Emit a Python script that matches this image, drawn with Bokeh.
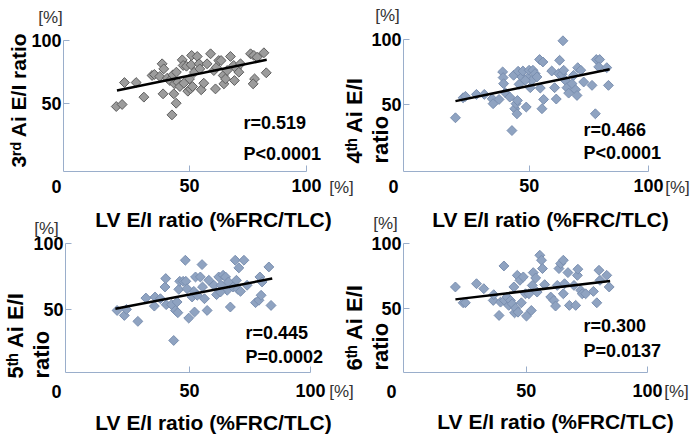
import numpy as np
from bokeh.plotting import figure
from bokeh.models import Range1d, FixedTicker, Label, LinearAxis
from bokeh.embed import file_html
from bokeh.resources import INLINE

# ---------------- data ----------------
lv_x1 = [18.7, 21.2, 22.2, 27.2, 30.5, 34.0, 35.0, 37.3, 38.3, 39.0, 38.7, 40.5, 41.6, 42.9, 42.5,
         43.3, 43.6, 44.3, 44.4, 45.0, 45.9, 46.9, 47.3, 48.7, 49.3, 50.0, 50.4, 50.7, 50.9, 51.3,
         52.1, 53.3, 54.1, 54.4, 55.0, 56.1, 57.5, 59.0, 60.4, 61.1, 61.5, 62.5, 63.5, 64.4, 64.7,
         65.4, 66.1, 67.5, 68.9, 69.2, 70.1, 71.1, 71.8, 76.1, 77.5, 77.8, 77.2, 78.9, 81.8, 82.8, 47.6]
ai3_y = [47.9, 49.5, 66.8, 66.8, 55.3, 72.4, 73.2, 71.6, 81.6, 77.6, 57.9, 70.3, 68.4, 72.9, 41.3,
         57.9, 65.8, 50.5, 75.0, 67.1, 63.7, 84.7, 80.3, 79.7, 60.0, 69.7, 61.8, 80.8, 88.2, 63.7,
         75.0, 87.4, 81.6, 77.6, 61.1, 66.3, 81.6, 89.5, 76.3, 61.8, 78.9, 84.2, 84.2, 72.4, 65.8,
         69.7, 76.3, 87.4, 80.3, 68.4, 77.6, 75.0, 81.6, 89.5, 88.2, 69.7, 65.8, 86.8, 90.3, 74.5, 66.3]

lv_x2 = [19.0, 22.2, 23.2, 27.8, 31.1, 34.4, 34.8, 37.3, 38.8, 39.0, 39.2, 39.9, 41.8, 42.7, 43.4,
         43.9, 44.4, 44.8, 45.0, 45.3, 45.7, 46.9, 47.3, 48.7, 49.4, 49.9, 50.4, 51.1, 51.5, 52.4,
         54.3, 54.6, 55.3, 55.7, 56.0, 59.4, 60.6, 61.3, 62.3, 62.7, 64.1, 63.7, 64.4, 65.1, 65.8,
         66.5, 67.9, 68.6, 69.4, 70.0, 70.3, 71.6, 72.8, 76.3, 77.7, 78.1, 79.5, 79.1, 82.5, 83.2,
         48.3, 53.2]
ai4_y = [39.4, 54.9, 56.0, 57.5, 57.5, 54.1, 50.3, 53.6, 74.9, 70.5, 65.8, 58.8, 55.4, 29.5, 72.3,
         46.4, 50.3, 42.5, 52.8, 75.4, 65.3, 71.0, 75.6, 47.7, 70.5, 76.2, 62.7, 68.4, 76.2, 73.6,
         84.5, 62.4, 46.4, 82.6, 53.6, 75.6, 62.7, 53.9, 73.6, 83.9, 99.0, 73.1, 76.2, 68.4, 62.7,
         58.5, 65.8, 72.3, 61.1, 56.7, 78.2, 76.2, 67.1, 64.5, 42.5, 84.5, 84.5, 78.8, 78.2, 64.5,
         68.4, 71.0]

lv_x3 = [20.1, 23.1, 24.0, 28.7, 32.0, 35.5, 35.8, 38.0, 39.9, 40.2, 40.4, 42.6, 43.5, 44.2, 44.9,
         45.2, 45.6, 46.0, 47.4, 48.3, 48.5, 49.7, 51.1, 51.8, 52.1, 52.5, 53.2, 54.5, 55.2, 55.4,
         56.2, 57.3, 60.1, 61.2, 62.1, 63.1, 63.9, 64.9, 65.6, 66.1, 66.9, 68.0, 68.9, 69.4, 70.0,
         70.4, 71.1, 72.5, 73.8, 77.3, 78.7, 79.6, 79.1, 80.0, 82.8, 83.7, 49.0, 58.0, 62.8]
ai5_y = [49.2, 45.4, 50.0, 40.9, 58.6, 52.5, 59.4, 58.1, 67.0, 73.4, 53.6, 53.6, 26.4, 49.2, 55.6,
         47.5, 65.2, 71.3, 71.3, 87.3, 71.3, 43.4, 59.4, 63.7, 48.0, 74.6, 60.7, 74.6, 84.0, 67.0,
         58.1, 49.2, 68.3, 61.2, 74.6, 68.3, 75.9, 74.6, 64.5, 70.8, 51.8, 67.0, 87.3, 72.1, 65.2,
         81.5, 63.7, 87.3, 68.3, 55.1, 56.9, 60.7, 74.6, 70.8, 82.2, 53.0, 65.7, 72.1, 63.2]

lv_x4 = [20.8, 24.0, 24.9, 29.5, 32.5, 36.4, 36.6, 38.8, 39.4, 40.8, 41.0, 42.1, 42.8, 43.5, 44.2,
         44.9, 45.2, 45.6, 46.3, 46.6, 47.4, 48.0, 48.8, 49.7, 50.1, 51.1, 52.1, 52.5, 52.9, 53.9,
         54.5, 55.6, 56.3, 56.7, 57.6, 60.1, 61.4, 62.1, 62.8, 63.5, 64.2, 65.3, 65.3, 65.8, 67.2,
         67.8, 69.7, 70.4, 71.1, 71.3, 72.5, 73.1, 74.5, 77.7, 79.1, 80.0, 80.4, 83.2, 84.2]
ai6_y = [66.7, 54.6, 54.6, 69.2, 65.4, 56.4, 60.8, 44.9, 55.1, 82.8, 56.4, 59.0, 52.6, 56.4, 53.8,
         66.7, 46.9, 50.5, 75.6, 47.4, 71.8, 54.6, 74.4, 61.5, 44.4, 61.5, 48.7, 67.9, 77.7, 73.6,
         62.8, 91.0, 87.2, 80.8, 68.5, 59.0, 56.4, 52.1, 67.9, 80.8, 84.6, 87.2, 61.5, 69.2, 77.7,
         52.6, 67.9, 52.6, 75.6, 80.3, 64.1, 61.5, 61.5, 63.3, 54.6, 79.5, 71.8, 75.6, 66.7]

# regression lines (end points)
fit_x1 = [19.0, 83.0]
fit_y1 = [60.5, 84.8]
fit_x2 = [19.0, 83.7]
fit_y2 = [52.3, 76.9]
fit_x3 = [19.4, 84.2]
fit_y3 = [50.5, 73.4]
fit_x4 = [20.8, 84.6]
fit_y4 = [57.2, 71.3]

x_ticks = [50, 100]
y_ticks = [50, 100]
x_title = "LV E/I ratio (%FRC/TLC)"
y_titles = [["3ʳᵈ Ai E/I ratio"], ["4ᵗʰ Ai E/I", "ratio"], ["5ᵗʰ Ai E/I", "ratio"], ["6ᵗʰ Ai E/I", "ratio"]]
stats = [["r=0.519", "P<0.0001"], ["r=0.466", "P<0.0001"], ["r=0.445", "P=0.0002"], ["r=0.300", "P=0.0137"]]

# ---------------- geometry (page pixels) ----------------
W, H = 692, 434
PANELS = [
    dict(frame=(63, 40, 306, 171), xr=(-3.85, 100), yr=(-3.4, 100), std=8),
    dict(frame=(403, 39, 648, 171), xr=(-2.8, 100), yr=(-2.2, 100), std=8),
    dict(frame=(65, 243, 310, 372), xr=(-1.2, 100), yr=(2.1, 100), std=12),
    dict(frame=(403, 243, 647, 372), xr=(-0.6, 100), yr=(1.2, 100), std=12),
]

AXIS_COLOR = "#9AAECB"
BOLD_FONT = "Liberation Sans"
STAT_FONT = "Liberation Sans"

p = figure(width=W, height=H, x_range=Range1d(0, W), y_range=Range1d(H, 0),
           x_axis_type=None, y_axis_type=None, min_border=0,
           toolbar_location=None, output_backend="svg", title=None)
p.outline_line_color = None
p.grid.visible = False
p.background_fill_color = "white"
p.border_fill_color = "white"


def full_range(a0, a1, v0, v1, lo, hi):
    """data range that covers page pixels lo..hi given that pixel a0->v0 and a1->v1"""
    k = (v1 - v0) / (a1 - a0)
    return v0 + (lo - a0) * k, v0 + (hi - a0) * k


def style_axis(ax, std):
    ax.axis_line_color = AXIS_COLOR
    ax.axis_line_width = 1
    ax.major_tick_line_color = AXIS_COLOR
    ax.major_tick_in = 6
    ax.major_tick_out = 0
    ax.minor_tick_line_color = None
    ax.major_label_text_font = BOLD_FONT
    ax.major_label_text_font_style = "bold"
    ax.major_label_text_font_size = "18px"
    ax.major_label_text_color = "black"
    ax.major_label_standoff = std


series = [(lv_x1, ai3_y, fit_x1, fit_y1, "#9C9C9C", "#5E5E5E"),
          (lv_x2, ai4_y, fit_x2, fit_y2, "#8FA3C1", "#7A8FB0"),
          (lv_x3, ai5_y, fit_x3, fit_y3, "#8FA3C1", "#7A8FB0"),
          (lv_x4, ai6_y, fit_x4, fit_y4, "#8FA3C1", "#7A8FB0")]

for i, (g, (xs, ys, fx, fy, fill, edge)) in enumerate(zip(PANELS, series)):
    x0, y0, x1, y1 = g["frame"]
    xa, xb = g["xr"]
    ya, yb = g["yr"]
    xn, yn = f"x{i}", f"y{i}"
    p.extra_x_ranges[xn] = Range1d(*full_range(x0, x1, xa, xb, 0, W))
    ylo, yhi = full_range(y1, y0, ya, yb, H, 0)
    p.extra_y_ranges[yn] = Range1d(ylo, yhi)

    xax = LinearAxis(x_range_name=xn, y_range_name=yn, fixed_location=ya, bounds=(xa, xb),
                     ticker=FixedTicker(ticks=x_ticks, minor_ticks=[]))
    style_axis(xax, g["std"] - 1)
    p.add_layout(xax, "below")
    yax = LinearAxis(x_range_name=xn, y_range_name=yn, fixed_location=xa, bounds=(ya, yb),
                     ticker=FixedTicker(ticks=y_ticks, minor_ticks=[]))
    style_axis(yax, 2)
    p.add_layout(yax, "left")

    p.scatter(xs, ys, x_range_name=xn, y_range_name=yn, marker="square", size=7,
              angle=np.pi / 4, fill_color=fill, line_color=edge, line_width=1)
    p.line(fx, fy, x_range_name=xn, y_range_name=yn, line_color="black", line_width=2.5)


def add_text(text, X, Y, size, style="bold", font=BOLD_FONT, align="center",
             baseline="middle", angle=0.0, color="black"):
    p.add_layout(Label(x=X, y=Y, x_units="data", y_units="data", text=text,
                       text_font=font, text_font_size=f"{size}px", text_font_style=style,
                       text_align=align, text_baseline=baseline, angle=angle,
                       text_color=color))


PCT = "[%]"
half_pi = np.pi / 2


def pct(X, Y):
    add_text(PCT, X, Y, 17, style="normal", font="Liberation Sans", color="#333333")


# panel 1
pct(50, 17)
add_text(y_titles[0][0], 18, 167, 21, align="left", angle=half_pi)
add_text("0", 56, 186, 18)
pct(341, 187)
add_text(x_title, 213, 219, 21, baseline="alphabetic")
add_text(stats[0][0], 243, 122, 18, font=STAT_FONT, align="left")
add_text(stats[0][1], 243, 153, 18, font=STAT_FONT, align="left")

# panel 2
pct(387, 15)
add_text(y_titles[1][0], 354, 163, 22, align="left", angle=half_pi)
add_text(y_titles[1][1], 380, 163, 22, align="left", angle=half_pi)
add_text("0", 393, 186, 18)
pct(677, 187)
add_text(x_title, 550, 219, 21, baseline="alphabetic")
add_text(stats[1][0], 583, 129, 18, font=STAT_FONT, align="left")
add_text(stats[1][1], 583, 152, 18, font=STAT_FONT, align="left")

# panel 3
pct(46, 228)
add_text(y_titles[2][0], 15, 378, 22, align="left", angle=half_pi)
add_text(y_titles[2][1], 41, 378, 22, align="left", angle=half_pi)
add_text("0", 56, 391, 18)
pct(341, 391)
add_text(x_title, 213, 422, 21, baseline="alphabetic")
add_text(stats[2][0], 245, 332, 18, font=STAT_FONT, align="left")
add_text(stats[2][1], 245, 356, 18, font=STAT_FONT, align="left")

# panel 4
pct(385, 223)
add_text(y_titles[3][0], 354, 370, 22, align="left", angle=half_pi)
add_text(y_titles[3][1], 380, 370, 22, align="left", angle=half_pi)
add_text("0", 391, 391, 18)
pct(676, 391)
add_text(x_title, 555, 421, 21, baseline="alphabetic")
add_text(stats[3][0], 583, 325, 18, font=STAT_FONT, align="left")
add_text(stats[3][1], 583, 350, 18, font=STAT_FONT, align="left")

with open("out.html", "w") as f:
    f.write(file_html(p, INLINE))
